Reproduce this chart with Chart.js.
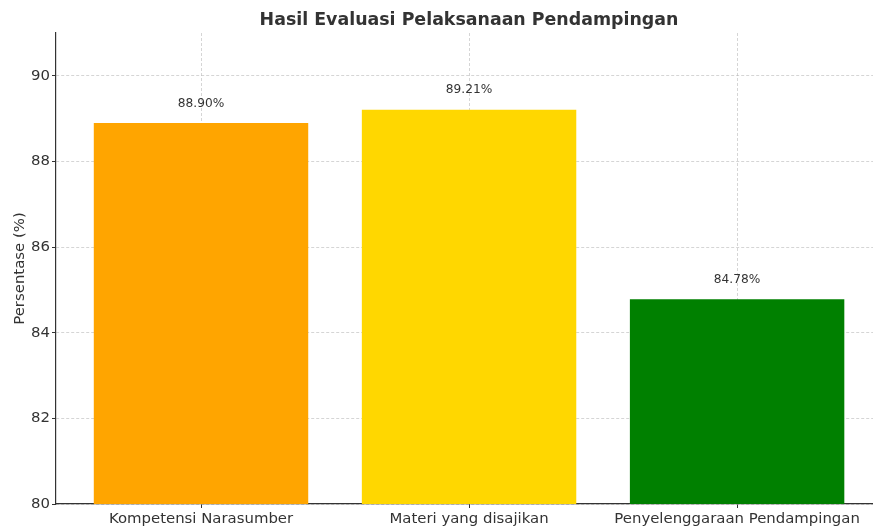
<!DOCTYPE html>
<html>
<head>
<meta charset="utf-8">
<script src="https://cdn.jsdelivr.net/npm/chart.js@4/dist/chart.umd.min.js"></script>
<style>
html,body{margin:0;padding:0;background:#fff;}
#wrap{width:873px;height:527px;position:relative;}
</style>
</head>
<body>
<div id="wrap"><canvas id="c" width="873" height="527"></canvas></div>
<script>
const categories = ['Kompetensi Narasumber', 'Materi yang disajikan', 'Penyelenggaraan Pendampingan'];
const values = [88.90, 89.21, 84.78];
const barColors = ['#FFA500', '#FFD700', '#008000'];
const yTicks = [80, 82, 84, 86, 88, 90];
const titleText = 'Hasil Evaluasi Pelaksanaan Pendampingan';
const yLabel = 'Persentase (%)';

const FONT = "'DejaVu Sans', sans-serif";
const TXT = '#333333';

const valueLabels = {
  id: 'valueLabels',
  afterDatasetsDraw(chart) {
    const ctx = chart.ctx;
    const meta = chart.getDatasetMeta(0);
    ctx.save();
    ctx.font = '12.2px ' + FONT;
    ctx.fillStyle = TXT;
    ctx.textAlign = 'center';
    ctx.textBaseline = 'middle';
    meta.data.forEach((bar, i) => {
      ctx.fillText(values[i].toFixed(2) + '%', bar.x, bar.y - 19.5);
    });
    ctx.restore();
  }
};

const titleDraw = {
  id: 'titleDraw',
  afterDraw(chart) {
    const ctx = chart.ctx;
    const a = chart.chartArea;
    ctx.save();
    ctx.font = 'bold 17.4px ' + FONT;
    ctx.fillStyle = TXT;
    ctx.textAlign = 'center';
    ctx.textBaseline = 'middle';
    ctx.fillText(titleText, (a.left + a.right) / 2 + 4.5, 20);
    ctx.restore();
  }
};

new Chart(document.getElementById('c'), {
  type: 'bar',
  data: {
    datasets: [{
      data: values.map((v, i) => ({x: i, y: v})),
      backgroundColor: barColors,
      borderWidth: 0,
      barPercentage: 0.8,
      categoryPercentage: 1.0
    }]
  },
  options: {
    responsive: false,
    animation: false,
    layout: {padding: {left: 0, right: 0, top: 33, bottom: 0}},
    plugins: {
      legend: {display: false},
      tooltip: {enabled: false},
      title: {display: false}
    },
    scales: {
      x: {
        type: 'linear',
        min: -0.541,
        max: 2.507,
        offset: false,
        z: 1,
        afterBuildTicks(scale) {
          scale.ticks = categories.map((c, i) => ({value: i}));
        },
        afterFit(scale) { scale.height = 23; },
        ticks: {
          autoSkip: false,
          maxRotation: 0,
          padding: 2,
          color: TXT,
          font: {family: FONT, size: 14.9},
          callback: (v) => categories[v] ?? ''
        },
        grid: {
          offset: false,
          color: 'rgba(180,180,180,0.7)',
          lineWidth: 0.8,
          tickLength: 4,
          tickColor: TXT,
          tickWidth: 1,
          tickBorderDash: []
        },
        border: {display: true, color: TXT, width: 1.2, dash: [3, 2]}
      },
      y: {
        type: 'linear',
        min: 80,
        max: 91,
        z: 1,
        afterBuildTicks(scale) {
          scale.ticks = yTicks.map(v => ({value: v}));
        },
        afterFit(scale) { scale.width = 56; },
        ticks: {
          padding: 2,
          color: TXT,
          font: {family: FONT, size: 14.9}
        },
        grid: {
          color: 'rgba(180,180,180,0.7)',
          lineWidth: 0.8,
          tickLength: 4,
          tickColor: TXT,
          tickWidth: 1,
          tickBorderDash: []
        },
        border: {display: true, color: TXT, width: 1.2, dash: [3, 2]},
        title: {
          display: true,
          text: yLabel,
          color: TXT,
          font: {family: FONT, size: 14.9},
          padding: {top: 11, bottom: 0}
        }
      }
    }
  },
  plugins: [valueLabels, titleDraw]
});
</script>
</body>
</html>
